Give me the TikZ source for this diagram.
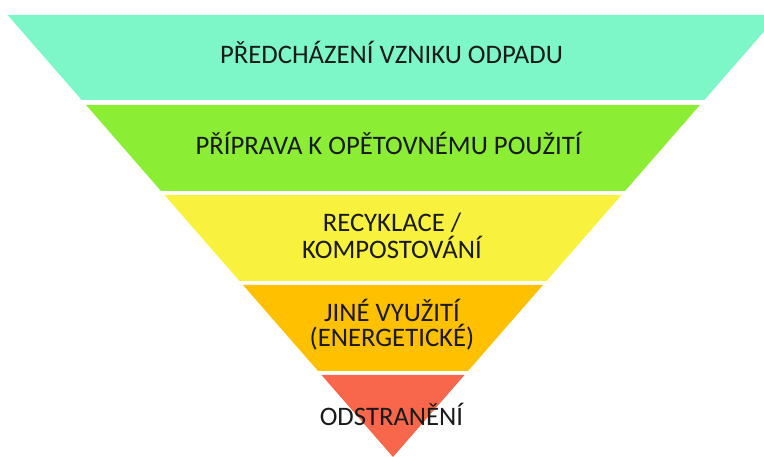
\documentclass[tikz,border=0pt]{standalone}
\usepackage{fontspec}
\setmainfont{Carlito}
\definecolor{bandA}{HTML}{7EF7C8}
\definecolor{bandB}{HTML}{8CED35}
\definecolor{bandC}{HTML}{F8F23F}
\definecolor{bandD}{HTML}{FFC000}
\definecolor{bandE}{HTML}{F8674B}
\definecolor{txt}{HTML}{1A1A1A}
\begin{document}
\begin{tikzpicture}[x=1pt,y=-1pt,
  lbl/.style={anchor=base,inner sep=0pt,text=txt,font=\fontsize{26.7}{30}\selectfont}]
\useasboundingbox (0,0) rectangle (764,457);
\begin{scope}
\clip (0,0) rectangle (764,457);
\fill[bandA] (7.6,15) -- (778.4,15) -- (704.3,100) -- (81.7,100) -- cycle;
\fill[bandB] (86.1,105) -- (699.9,105) -- (625.0,191) -- (161.0,191) -- cycle;
\fill[bandC] (164.5,195) -- (621.5,195) -- (546.5,281) -- (239.5,281) -- cycle;
\fill[bandD] (243.0,285) -- (543.0,285) -- (468.0,371) -- (318.0,371) -- cycle;
\fill[bandE] (321.5,375) -- (464.5,375) -- (393,457) -- cycle;
\end{scope}
\node[lbl] (t1) at (391.5,64) {PŘEDCHÁZENÍ VZNIKU ODPADU};
\node[lbl] (t2) at (388.5,155) {PŘÍPRAVA K OPĚTOVNÉMU POUŽITÍ};
\node[lbl] (t3a) at (392,232) {RECYKLACE /};
\node[lbl] (t3b) at (392,259) {KOMPOSTOVÁNÍ};
\node[lbl] (t4a) at (392,322) {JINÉ VYUŽITÍ};
\node[lbl] (t4b) at (392,347) {(ENERGETICKÉ)};
\node[lbl] (t5) at (391.5,425) {ODSTRANĚNÍ};
\end{tikzpicture}
\end{document}
